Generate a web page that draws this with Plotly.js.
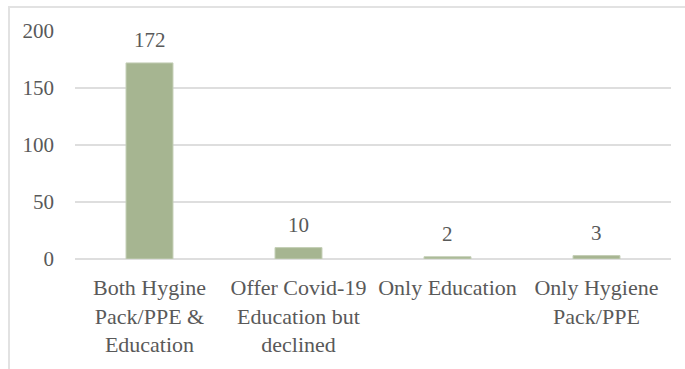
<!DOCTYPE html>
<html>
<head>
<meta charset="utf-8">
<script src="https://cdn.plot.ly/plotly-3.0.1.min.js"></script>
<style>
  html, body { margin: 0; padding: 0; background: #fff; }
  #wrap { position: relative; width: 685px; height: 369px; }
  #chart { width: 685px; height: 369px; }
  #frame { position: absolute; left: 8px; top: 6px; right: -2px; bottom: -2px;
           border-top: 2px solid #e2e2e2; border-left: 2px solid #e2e2e2; pointer-events: none; }
</style>
</head>
<body>
<div id="wrap">
  <div id="chart"></div>
  <div id="frame"></div>
</div>
<script>
const categories = [
  "Both Hygine<br>Pack/PPE &amp;<br>Education",
  "Offer Covid-19<br>Education but<br>declined",
  "Only Education",
  "Only Hygiene<br>Pack/PPE"
];
const values = [172, 10, 2, 3];
const yTicks = [0, 50, 100, 150, 200];

const fontFamily = "'Liberation Serif', 'DejaVu Serif', serif";
const textColor = "#595959";

const trace = {
  type: "bar",
  x: categories,
  y: values,
  marker: { color: "#a6b591", line: { color: "#c4cfb6", width: 1 } },
  hoverinfo: "none"
};

const annotations = categories.map((c, i) => ({
  x: c, y: values[i], xref: "x", yref: "y",
  text: String(values[i]),
  showarrow: false, yanchor: "bottom", yshift: 9,
  font: { family: fontFamily, size: 21, color: textColor }
}));

const layout = {
  width: 685, height: 369,
  margin: { l: 75, r: 14, t: 31, b: 110 },
  paper_bgcolor: "#ffffff",
  plot_bgcolor: "#ffffff",
  bargap: 0.685,
  showlegend: false,
  xaxis: {
    type: "category",
    showgrid: false, zeroline: false, showline: false,
    ticks: "",
    ticklabelstandoff: 13,
    tickfont: { family: fontFamily, size: 22, color: textColor },
    fixedrange: true
  },
  yaxis: {
    range: [0, 200],
    tickvals: yTicks,
    ticktext: yTicks.map(String),
    showgrid: true, gridcolor: "#dedede", gridwidth: 2,
    zeroline: true, zerolinecolor: "#dedede", zerolinewidth: 2,
    showline: false, ticks: "",
    ticklabelstandoff: 20,
    tickfont: { family: fontFamily, size: 21, color: textColor },
    fixedrange: true
  },
  annotations: annotations
};

Plotly.newPlot("chart", [trace], layout, { displayModeBar: false, staticPlot: true });
</script>
</body>
</html>
